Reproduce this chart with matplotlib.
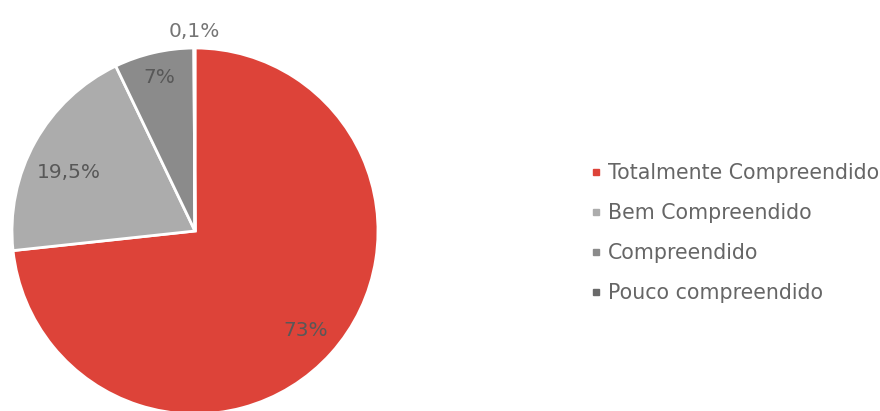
import matplotlib.pyplot as plt
import numpy as np
from matplotlib.lines import Line2D

categories = ['Totalmente Compreendido', 'Bem Compreendido', 'Compreendido', 'Pouco compreendido']
values = [73, 19.5, 7, 0.1]
labels = ['73%', '19,5%', '7%', '0,1%']
colors = ['#dd4339', '#acacac', '#8b8b8b', '#6a6a6a']

plt.rcParams['font.family'] = ['DejaVu Sans']

fig = plt.figure(figsize=(8.8, 4.11), dpi=100)
ax = fig.add_axes([12 / 880, -3 / 411, 366 / 880, 366 / 411])

wedges, _ = ax.pie(values, colors=colors, startangle=90, counterclock=False,
                   wedgeprops=dict(edgecolor='white', linewidth=2))
ax.set_xlim(-1, 1)
ax.set_ylim(-1, 1)
ax.set_aspect('equal')

# percentage labels: inside for the big slices, outside for the sliver
label_r = [0.81, 0.76, 0.86, 1.09]
label_shift = [0, 4, 0, 0]  # degrees, like excel's best-fit nudging
for w, lab, r, s in zip(wedges, labels, label_r, label_shift):
    ang = np.deg2rad((w.theta1 + w.theta2) / 2 + s)
    col = '#757575' if lab == '0,1%' else '#585858'
    ax.text(r * np.cos(ang), r * np.sin(ang), lab, ha='center', va='center',
            fontsize=14.5, color=col, clip_on=False)

# legend with small square markers
handles = [Line2D([], [], marker='s', linestyle='', color=c, markersize=4) for c in colors]
leg = fig.legend(handles, categories, loc='upper left', bbox_to_anchor=(580 / 880, 1 - 155 / 411),
                 frameon=False, fontsize=14.8, labelspacing=0.97, handletextpad=0.2,
                 handlelength=0.75, borderaxespad=0)
for t in leg.get_texts():
    t.set_color('#666666')

fig.savefig('out.png', dpi=100)
